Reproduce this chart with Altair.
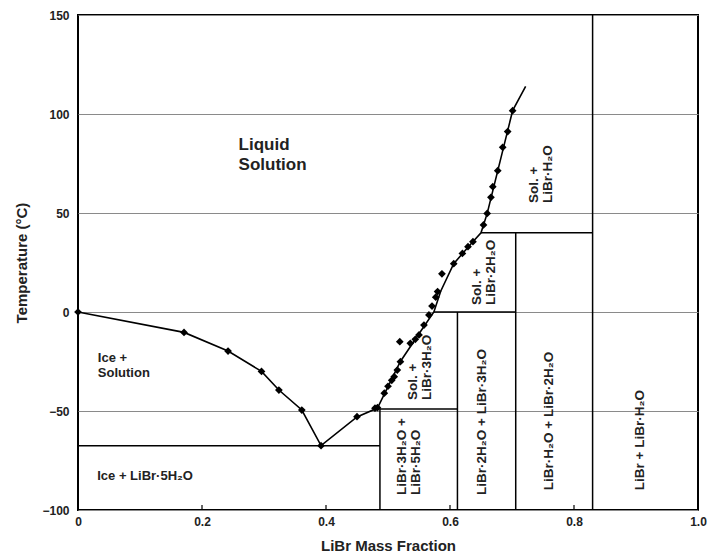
import altair as alt
import pandas as pd

# Liquidus curve (line path)
curve_x = [0.0, 0.171, 0.242, 0.296, 0.324, 0.361, 0.392, 0.450, 0.483, 0.520, 0.550,
           0.574, 0.585, 0.606, 0.634, 0.650, 0.660, 0.701, 0.722]
curve_y = [0.0, -10.3, -19.7, -30.0, -39.4, -49.5, -67.5, -53.0, -48.5, -25.0, -11.0,
           0.0, 10.5, 24.4, 34.5, 40.0, 49.8, 101.7, 114.0]

# Measured points (diamonds)
pts_x = [0.0, 0.171, 0.242, 0.296, 0.324, 0.361, 0.392, 0.450, 0.479, 0.483,
         0.494, 0.500, 0.506, 0.510, 0.515, 0.520, 0.519, 0.536, 0.544, 0.550,
         0.558, 0.566, 0.571, 0.577, 0.580, 0.587, 0.606, 0.620, 0.629, 0.637,
         0.654, 0.660, 0.666, 0.669, 0.677, 0.685, 0.693, 0.701]
pts_y = [0.0, -10.3, -19.7, -30.0, -39.4, -49.5, -67.5, -52.9, -48.6, -48.3,
         -41.0, -37.5, -34.5, -32.7, -29.3, -25.1, -15.0, -15.8, -13.8, -11.6,
         -6.6, -1.5, 3.0, 7.5, 10.3, 19.3, 24.4, 29.6, 33.0, 35.5,
         44.0, 49.8, 57.9, 63.3, 71.4, 83.2, 91.1, 101.7]

# Phase boundary segments
seg_x1 = [0.0, 0.487, 0.487, 0.612, 0.574, 0.706, 0.650, 0.830]
seg_x2 = [0.487, 0.487, 0.612, 0.612, 0.706, 0.706, 0.830, 0.830]
seg_y1 = [-67.5, -100.0, -49.0, -100.0, 0.0, -100.0, 40.0, -100.0]
seg_y2 = [-67.5, -49.0, -49.0, 0.0, 0.0, 40.0, 40.0, 150.0]

# Horizontal region labels (anchor = first line)
hlab_text = ["Liquid\nSolution", "Ice +\nSolution", "Ice + LiBr·5H₂O"]
hlab_x = [0.259, 0.032, 0.031]
hlab_y = [84.3, -23.2, -83.0]
hlab_size = [17, 13, 13]
hlab_lh = [20, 15, 15]

# Rotated region labels (anchor = first line, start of reading at bottom)
vlab_text = ["Sol. +\nLiBr·H₂O", "Sol. +\nLiBr·2H₂O", "Sol. +\nLiBr·3H₂O",
             "LiBr·3H₂O +\nLiBr·5H₂O", "LiBr·2H₂O + LiBr·3H₂O",
             "LiBr·H₂O + LiBr·2H₂O", "LiBr + LiBr·H₂O"]
vlab_x = [0.735, 0.643, 0.541, 0.5225, 0.651, 0.759, 0.907]
vlab_y = [55.0, 3.5, -44.4, -92.4, -92.4, -90.0, -90.0]

# inward x ticks
xtick_vals = [0.2, 0.4, 0.6, 0.8]

curve_df = pd.DataFrame({"x": curve_x, "y": curve_y, "o": list(range(len(curve_x)))})
pts_df = pd.DataFrame({"x": pts_x, "y": pts_y})
seg_df = pd.DataFrame({"x": seg_x1, "x2": seg_x2, "y": seg_y1, "y2": seg_y2})
vlab_df = pd.DataFrame({"x": vlab_x, "y": vlab_y, "t": vlab_text})
tick_df = pd.DataFrame({"x": xtick_vals, "y": [-100.0] * 4, "y2": [-97.5] * 4})

FONT = "Liberation Sans"

xs = alt.Scale(domain=[0, 1], nice=False, zero=False)
ys = alt.Scale(domain=[-100, 150], nice=False, zero=False)

xaxis = alt.Axis(values=[0, 0.2, 0.4, 0.6, 0.8, 1.0],
                 labelExpr="datum.value == 0 ? '0' : format(datum.value, '.1f')",
                 grid=False, ticks=False, domain=False, labelPadding=6, labelFlush=False,
                 labelFont=FONT, labelFontWeight="bold", labelFontSize=12, labelColor="#222",
                 title="LiBr Mass Fraction", titleFont=FONT, titleFontWeight="bold",
                 titleFontSize=15, titleColor="#222", titlePadding=11)
yaxis = alt.Axis(values=[-100, -50, 0, 50, 100, 150],
                 grid=True, gridColor="#8a8a8a", gridWidth=1, ticks=False, domain=False,
                 labelPadding=9, labelFont=FONT, labelFontWeight="bold", labelFontSize=12,
                 labelColor="#222",
                 title="Temperature (°C)", titleFont=FONT, titleFontWeight="bold",
                 titleFontSize=15, titleColor="#222", titlePadding=12)

base_grid = alt.Chart(pts_df).mark_point(opacity=0).encode(
    x=alt.X("x:Q", scale=xs, axis=xaxis),
    y=alt.Y("y:Q", scale=ys, axis=yaxis),
)

segs = alt.Chart(seg_df).mark_rule(color="black", strokeWidth=1.5).encode(
    x=alt.X("x:Q", scale=xs), x2="x2:Q",
    y=alt.Y("y:Q", scale=ys), y2="y2:Q",
)

ticks = alt.Chart(tick_df).mark_rule(color="black", strokeWidth=1.2).encode(
    x=alt.X("x:Q", scale=xs), y=alt.Y("y:Q", scale=ys), y2="y2:Q",
)

curve = alt.Chart(curve_df).mark_line(color="black", strokeWidth=1.6).encode(
    x=alt.X("x:Q", scale=xs), y=alt.Y("y:Q", scale=ys), order="o:Q",
)

points = alt.Chart(pts_df).mark_point(shape="diamond", filled=True, color="black",
                                      size=60, opacity=1).encode(
    x=alt.X("x:Q", scale=xs), y=alt.Y("y:Q", scale=ys),
)

hlayers = []
for t, x, y, s, lh in zip(hlab_text, hlab_x, hlab_y, hlab_size, hlab_lh):
    d = pd.DataFrame({"x": [x], "y": [y], "t": [t]})
    hlayers.append(
        alt.Chart(d).mark_text(align="left", baseline="middle", lineBreak="\n",
                               font=FONT, fontWeight="bold", color="#222",
                               fontSize=s, lineHeight=lh).encode(
            x=alt.X("x:Q", scale=xs), y=alt.Y("y:Q", scale=ys), text="t:N")
    )

vlabels = alt.Chart(vlab_df).mark_text(align="left", baseline="middle", angle=270,
                                       lineBreak="\n", font=FONT, fontWeight="bold",
                                       fontSize=13.5, color="#222", lineHeight=14).encode(
    x=alt.X("x:Q", scale=xs), y=alt.Y("y:Q", scale=ys), text="t:N",
)

chart = alt.layer(base_grid, segs, ticks, curve, points, *hlayers, vlabels).properties(
    width=620, height=495,
    autosize="none",
    padding={"left": 70, "top": 7, "right": 9, "bottom": 47},
).configure_view(stroke="black", strokeWidth=2)

chart.save("out.html", embed_options={"renderer": "svg", "actions": False})
